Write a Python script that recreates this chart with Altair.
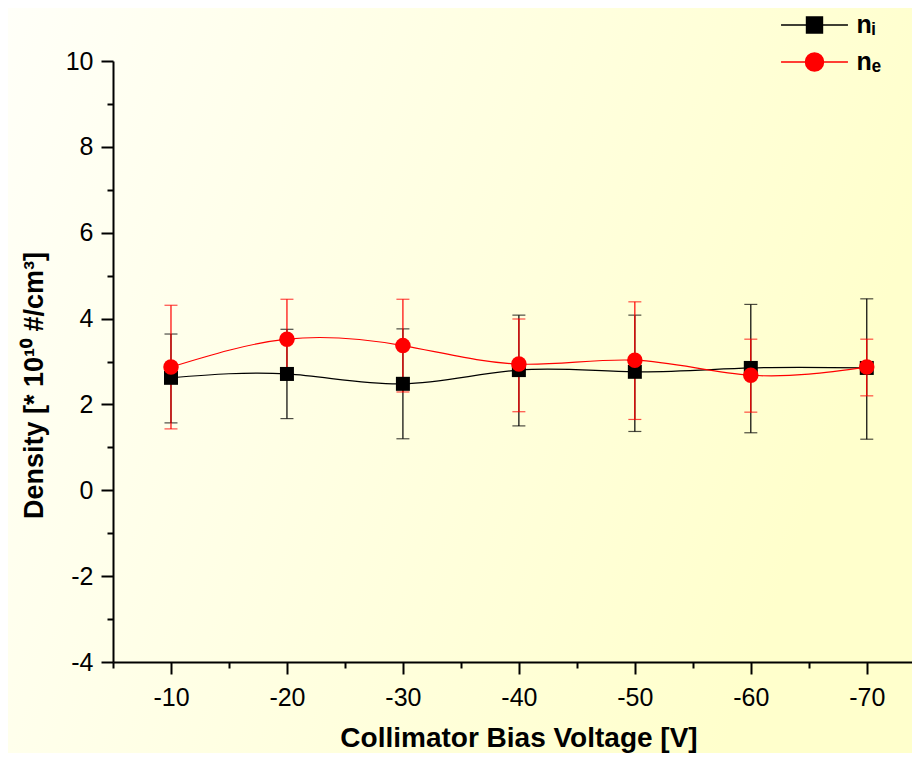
import altair as alt
import pandas as pd

# ---- data ----
voltage = [-10, -20, -30, -40, -50, -60, -70]
ni = [2.62, 2.71, 2.48, 2.80, 2.76, 2.85, 2.85]
ni_hi = [3.64, 3.75, 3.76, 4.08, 4.08, 4.33, 4.46]
ni_lo = [1.57, 1.67, 1.20, 1.50, 1.37, 1.34, 1.19]
ne = [2.87, 3.52, 3.37, 2.94, 3.03, 2.68, 2.87]
ne_hi = [4.31, 4.45, 4.45, 3.99, 4.39, 3.52, 3.52]
ne_lo = [1.43, 2.58, 2.29, 1.83, 1.65, 1.82, 2.20]

x_ticks = [-5, -10, -15, -20, -25, -30, -35, -40, -45, -50, -55, -60, -65, -70]
y_ticks = [-4, -3, -2, -1, 0, 1, 2, 3, 4, 5, 6, 7, 8, 9, 10]
series_ids = ["ni", "ne"]
series_colors = ["#000000", "#FF0000"]

rows = []
for sid, vals, lo, hi in (("ni", ni, ni_lo, ni_hi), ("ne", ne, ne_lo, ne_hi)):
    for v, d, l, h in zip(voltage, vals, lo, hi):
        rows.append({"V": v, "series": sid, "val": d, "lo": l, "hi": h})
df = pd.DataFrame(rows)

FONT = "Liberation Sans, Arial, sans-serif"

xs = alt.Scale(domain=[-73.9, -5], reverse=True, nice=False, zero=False)
ys = alt.Scale(domain=[-4, 10], nice=False, zero=False)

xaxis = alt.Axis(
    values=x_ticks,
    labelExpr="datum.value % 10 === 0 ? '' + datum.value : ''",
    tickSize={"condition": {"test": "datum.value % 10 === 0", "value": 12}, "value": 6},
    tickWidth=2, tickColor="black", domainWidth=2, domainColor="black",
    labelFont=FONT, labelFontSize=25, labelColor="black", labelPadding=11,
    labelFlush=False, labelOverlap=False, grid=False, zindex=1,
    title="Collimator Bias Voltage [V]", titleFont=FONT, titleFontSize=28,
    titleFontWeight="bold", titleColor="black", titleX=405.5, titleY=84,
    titleAlign="center", titleBaseline="alphabetic",
)
yaxis = alt.Axis(
    values=y_ticks,
    labelExpr="datum.value % 2 === 0 ? '' + datum.value : ''",
    tickSize={"condition": {"test": "datum.value % 2 === 0", "value": 12}, "value": 6},
    tickWidth=2, tickColor="black", domainWidth=2, domainColor="black",
    labelFont=FONT, labelFontSize=25, labelColor="black", labelPadding=8,
    labelFlush=False, labelOverlap=False, grid=False, zindex=1,
    title="Density [* 10\u00b9\u2070 #/cm\u00b3]", titleFont=FONT, titleFontSize=27,
    titleFontWeight="bold", titleColor="black", titleAngle=270,
    titleX=-71, titleY=324, titleAlign="center", titleBaseline="alphabetic",
)

X = alt.X("V:Q", scale=xs, axis=xaxis)


def Y(field):
    return alt.Y(f"{field}:Q", scale=ys, axis=yaxis)


base = alt.Chart(df)

gradient = alt.LinearGradient(
    gradient="linear",
    stops=[
        alt.GradientStop(color="#FFFFF8", offset=0),
        alt.GradientStop(color="#FFFFE2", offset=0.5),
        alt.GradientStop(color="#FFFFCC", offset=1),
    ],
    x1=0, x2=1, y1=0, y2=0.3,
)
bg = alt.Chart(alt.Data(values=[{"k": 0}])).mark_rect(color=gradient).encode(
    x=alt.value(-105), x2=alt.value(799), y=alt.value(-53), y2=alt.value(692)
)

layers = [bg]
for sid, col in zip(series_ids, series_colors):
    s = base.transform_filter(alt.datum.series == sid)
    layers.append(s.mark_rule(color=col, strokeWidth=1.2).encode(x=X, y=Y("lo"), y2="hi:Q"))
    layers.append(s.mark_tick(color=col, orient="horizontal", size=13, thickness=1.2).encode(x=X, y=Y("lo")))
    layers.append(s.mark_tick(color=col, orient="horizontal", size=13, thickness=1.2).encode(x=X, y=Y("hi")))

for sid, col in zip(series_ids, series_colors):
    s = base.transform_filter(alt.datum.series == sid)
    layers.append(s.mark_line(color=col, strokeWidth=1.2, interpolate="natural").encode(x=X, y=Y("val")))

layers.append(
    base.transform_filter(alt.datum.series == "ni")
    .mark_point(shape="square", filled=True, size=196, color="#000000", opacity=1)
    .encode(x=X, y=Y("val"))
)
layers.append(
    base.transform_filter(alt.datum.series == "ne")
    .mark_point(shape="circle", filled=True, size=240, color="#FF0000", opacity=1)
    .encode(x=X, y=Y("val"))
)

sq_path = "M-2.23,0H-0.53M0.53,0H2.23M-0.53,-0.53H0.53V0.53H-0.53Z"
ci_path = ("M-2.23,0H-0.6M0.6,0H2.23M-0.6,0A0.6,0.6,0,1,0,0.6,0"
           "A0.6,0.6,0,1,0,-0.6,0Z")

leg = alt.Legend(
    orient="none", legendX=685.5, legendY=-52, title=None,
    symbolSize=900, symbolStrokeWidth=1.5, symbolOpacity=1,
    labelFont=FONT, labelFontSize=25, labelFontWeight="bold", labelColor="black",
    labelOffset=26, rowPadding=8, padding=0, zindex=2,
    labelExpr="datum.value === 'ni' ? 'n\u1d62' : 'n\u2091'",
)
legend_layer = base.transform_filter("false").mark_point(filled=True).encode(
    fill=alt.Fill("series:N", scale=alt.Scale(domain=series_ids, range=series_colors), legend=leg),
    stroke=alt.Stroke("series:N", scale=alt.Scale(domain=series_ids, range=series_colors), legend=leg),
    shape=alt.Shape("series:N", scale=alt.Scale(domain=series_ids, range=[sq_path, ci_path]), legend=leg),
)
layers.append(legend_layer)

chart = alt.layer(*layers).properties(
    width=799, height=601, autosize="none",
    padding={"left": 105, "top": 53, "right": 0, "bottom": 91},
).configure_view(stroke=None)

chart.save("out.html", embed_options={"renderer": "svg", "actions": False})
